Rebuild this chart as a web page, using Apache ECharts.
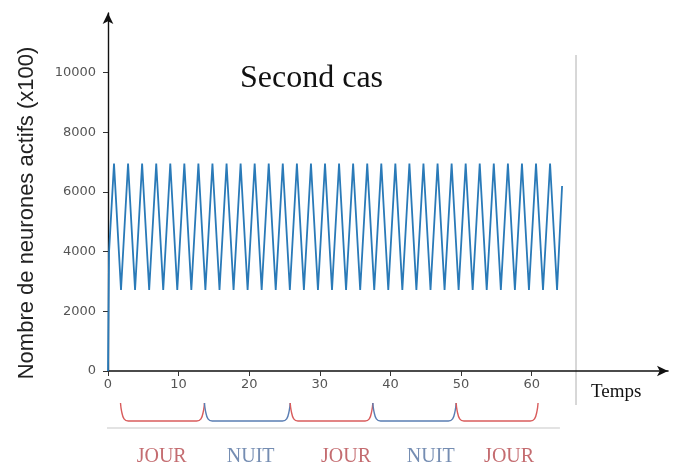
<!DOCTYPE html>
<html>
<head>
<meta charset="utf-8">
<script src="https://cdn.jsdelivr.net/npm/echarts@6/dist/echarts.min.js"></script>
<style>
  html, body { margin: 0; padding: 0; background: #fff; }
  #main { width: 678px; height: 470px; }
</style>
</head>
<body>
<div id="main"></div>
<script>
// start of the run: rises from 0
var startTimes = [0, 0.15];
var startValues = [0, 4000];

// peaks and troughs of the oscillation
var peakTimes = [0.85, 2.84, 4.83, 6.83, 8.82, 10.81, 12.80, 14.79, 16.79, 18.78,
  20.77, 22.76, 24.75, 26.75, 28.74, 30.73, 32.72, 34.71, 36.71, 38.70,
  40.69, 42.68, 44.67, 46.67, 48.66, 50.65, 52.64, 54.63, 56.63, 58.62,
  60.61, 62.60];
var peakValues = [6950, 6950, 6950, 6950, 6950, 6950, 6950, 6950, 6950, 6950,
  6950, 6950, 6950, 6950, 6950, 6950, 6950, 6950, 6950, 6950,
  6950, 6950, 6950, 6950, 6950, 6950, 6950, 6950, 6950, 6950,
  6950, 6950];
var troughTimes = [1.84, 3.83, 5.83, 7.82, 9.81, 11.80, 13.79, 15.79, 17.78, 19.77,
  21.76, 23.75, 25.75, 27.74, 29.73, 31.72, 33.71, 35.71, 37.70, 39.69,
  41.68, 43.67, 45.67, 47.66, 49.65, 51.64, 53.63, 55.63, 57.62, 59.61,
  61.60, 63.59];
var troughValues = [2720, 2720, 2720, 2720, 2720, 2720, 2720, 2720, 2720, 2720,
  2720, 2720, 2720, 2720, 2720, 2720, 2720, 2720, 2720, 2720,
  2720, 2720, 2720, 2720, 2720, 2720, 2720, 2720, 2720, 2720,
  2720, 2720];
var endTime = 64.3;
var endValue = 6200;

var yTickLabels = [0, 2000, 4000, 6000, 8000, 10000];
var xTickLabels = [0, 10, 20, 30, 40, 50, 60];

// day / night schematic below the axis
var phaseBounds = [1.77, 13.66, 25.8, 37.5, 49.3, 60.9];
var phaseNames = ['JOUR', 'NUIT', 'JOUR', 'NUIT', 'JOUR'];
var phaseLabelX = [7.6, 20.2, 33.7, 45.7, 56.8];

var red = '#d95c5c', blue = '#5a7db3';
var redText = '#b5474c', blueText = '#52709f';

// build the curve
var curve = [];
for (var i = 0; i < startTimes.length; i++) curve.push([startTimes[i], startValues[i]]);
for (var i = 0; i < peakTimes.length; i++) {
  curve.push([peakTimes[i], peakValues[i]]);
  curve.push([troughTimes[i], troughValues[i]]);
}
curve.push([endTime, endValue]);

var series = [{
  type: 'line',
  xAxisIndex: 0, yAxisIndex: 0,
  data: curve,
  showSymbol: false,
  lineStyle: { color: '#2a7ab8', width: 1.8 },
  animation: false
}];

// braces
for (var p = 0; p < phaseNames.length; p++) {
  var a = phaseBounds[p], b = phaseBounds[p + 1];
  var col = phaseNames[p] == 'JOUR' ? red : blue;
  series.push({
    type: 'line',
    xAxisIndex: 1, yAxisIndex: 1,
    data: [[a, 1], [a + 0.15, 0.55], [a + 0.5, 0.12], [a + 1.1, 0],
           [b - 1.1, 0], [b - 0.5, 0.12], [b - 0.15, 0.55], [b, 1]],
    smooth: 0.4,
    showSymbol: false,
    lineStyle: { color: col, width: 1.4 },
    animation: false
  });
}
// grey rule under the braces
series.push({
  type: 'line',
  xAxisIndex: 1, yAxisIndex: 1,
  data: [[-0.6, -0.39], [64.0, -0.39]],
  showSymbol: false,
  lineStyle: { color: '#c8c8c8', width: 1.2 },
  animation: false
});
// JOUR / NUIT labels
series.push({
  type: 'scatter',
  xAxisIndex: 1, yAxisIndex: 1,
  symbolSize: 0,
  data: phaseNames.map(function (n, i) {
    return {
      name: n, value: [phaseLabelX[i], -2.0],
      label: { color: n == 'JOUR' ? redText : blueText }
    };
  }),
  label: {
    show: true, position: 'inside',
    formatter: function (p) { return p.name; },
    fontFamily: 'Liberation Serif', fontSize: 20
  },
  animation: false
});

var chart = echarts.init(document.getElementById('main'));

chart.setOption({
  backgroundColor: '#fff',
  title: {
    text: 'Second cas',
    left: 240, top: 63, padding: 0,
    textStyle: { fontFamily: 'Liberation Serif', fontSize: 32, fontWeight: 'normal', color: '#111' }
  },
  grid: [
    { left: 108, top: 13, width: 560, height: 358, outerBoundsMode: 'none' },
    { left: 108, top: 403, width: 560, height: 54, outerBoundsMode: 'none' }
  ],
  xAxis: [{
    gridIndex: 0,
    type: 'value',
    min: 0, max: 79.3,
    axisLine: { lineStyle: { color: '#111', width: 1.6 }, symbol: ['none', 'arrow'], symbolSize: [8, 11] },
    axisTick: { show: true, customValues: xTickLabels, length: 5, lineStyle: { color: '#333' } },
    axisLabel: { customValues: xTickLabels, color: '#555', fontFamily: 'DejaVu Sans', fontSize: 13, margin: 7,
      formatter: function (v) { return String(v); } },
    splitLine: { show: false }
  }, {
    gridIndex: 1,
    type: 'value',
    min: 0, max: 79.3,
    show: false
  }],
  yAxis: [{
    gridIndex: 0,
    type: 'value',
    min: 0, max: 12000,
    axisLine: { show: true, lineStyle: { color: '#111', width: 1.4 }, symbol: ['none', 'arrow'], symbolSize: [8, 11] },
    axisTick: { show: true, customValues: yTickLabels, length: 5, lineStyle: { color: '#333' } },
    axisLabel: { customValues: yTickLabels, color: '#555', fontFamily: 'DejaVu Sans', fontSize: 13, margin: 12,
      formatter: function (v) { return String(v); } },
    splitLine: { show: false }
  }, {
    gridIndex: 1,
    type: 'value',
    min: -2, max: 1,
    show: false
  }],
  graphic: [{
    type: 'text',
    x: 27, y: 213,
    rotation: Math.PI / 2,
    style: {
      text: 'Nombre de neurones actifs (x100)',
      fontFamily: 'Liberation Sans', fontSize: 22, fill: '#222',
      align: 'center', verticalAlign: 'middle'
    }
  }, {
    type: 'line',
    shape: { x1: 576, y1: 55, x2: 576, y2: 405 },
    style: { stroke: '#b0b0b0', lineWidth: 1 }
  }, {
    type: 'text',
    x: 591, y: 392,
    style: {
      text: 'Temps',
      fontFamily: 'Liberation Serif', fontSize: 19, fill: '#111',
      verticalAlign: 'middle'
    }
  }],
  series: series
});
</script>
</body>
</html>
